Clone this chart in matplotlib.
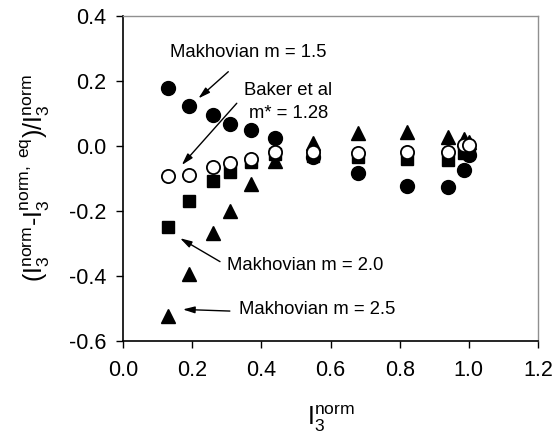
import numpy as np
import matplotlib
matplotlib.use("Agg")
import matplotlib.pyplot as plt

plt.rcParams['font.family'] = ['Liberation Sans', 'DejaVu Sans']
plt.rcParams['mathtext.fontset'] = 'custom'
plt.rcParams['mathtext.rm'] = 'Liberation Sans'
plt.rcParams['mathtext.it'] = 'Liberation Sans'

# I3 norm (x) values, shared by all series
x_vals = [0.13, 0.19, 0.26, 0.31, 0.37, 0.44, 0.55, 0.68, 0.82, 0.94, 0.985, 1.0]

# Makhovian m = 1.5 (filled circles)
m15 = [0.179, 0.124, 0.094, 0.068, 0.048, 0.024, -0.035, -0.083, -0.124, -0.128, -0.075, -0.028]
# Makhovian m = 2.0 (filled squares)
m20 = [-0.25, -0.171, -0.107, -0.080, -0.049, -0.025, -0.03, -0.035, -0.040, -0.044, -0.022, -0.015]
# Makhovian m = 2.5 (filled triangles)
m25 = [-0.523, -0.394, -0.268, -0.200, -0.117, -0.047, 0.008, 0.040, 0.043, 0.028, 0.022, 0.012]
# Baker et al m* = 1.28 (open circles)
baker = [-0.092, -0.090, -0.064, -0.054, -0.039, -0.020, -0.020, -0.021, -0.020, -0.018, 0.004, 0.002]

fig = plt.figure(figsize=(5.55, 4.38), dpi=100)
ax = fig.add_axes([0.2216, 0.2215, 0.7478, 0.7425])

ax.plot(x_vals, m15, 'o', color='black', ms=10, zorder=3)
ax.plot(x_vals, m20, 's', color='black', ms=8.5, zorder=3)
ax.plot(x_vals, m25, '^', color='black', ms=10, zorder=3)
ax.plot(x_vals, baker, 'o', mfc='white', mec='black', mew=1.3, ms=9.5, zorder=4)

ax.set_xlim(0.0, 1.2)
ax.set_ylim(-0.6, 0.4)
ax.set_xticks(np.arange(0.0, 1.21, 0.2))
ax.set_yticks(np.arange(-0.6, 0.41, 0.2))
ax.set_xticklabels(['%.1f' % v for v in np.arange(0.0, 1.21, 0.2)])
ax.set_yticklabels(['%.1f' % v for v in np.arange(-0.6, 0.41, 0.2)])
ax.tick_params(direction='out', length=5, width=1, labelsize=15.5)
ax.tick_params(axis='x', pad=9)
ax.tick_params(axis='y', pad=7)
ax.tick_params(top=False, right=False)

for s in ['left', 'bottom']:
    ax.spines[s].set_color('black')
    ax.spines[s].set_linewidth(1.2)
for s in ['top', 'right']:
    ax.spines[s].set_color('#909090')
    ax.spines[s].set_linewidth(1.0)

ax.set_xlabel(r'$\mathrm{I}_3^{\mathrm{norm}}$', fontsize=18, labelpad=16)
ax.set_ylabel(r'$(\mathrm{I}_3^{\mathrm{norm}}\text{-}\mathrm{I}_3^{\mathrm{norm,\ eq}})/\mathrm{I}_3^{\mathrm{norm}}$',
              fontsize=18, labelpad=12)

arrow = dict(arrowstyle='-|>,head_length=0.7,head_width=0.2', color='black', lw=1.0,
             shrinkA=0, shrinkB=0)

ax.text(0.361, 0.288, 'Makhovian m = 1.5', ha='center', va='center', fontsize=13.3)
ax.annotate('', xy=(0.218, 0.146), xytext=(0.3045, 0.228), arrowprops=arrow)

ax.text(0.478, 0.136, 'Baker et al\nm* = 1.28', ha='center', va='center', fontsize=13.3,
        linespacing=1.45)
ax.annotate('', xy=(0.170, -0.059), xytext=(0.329, 0.131), arrowprops=arrow)

ax.text(0.528, -0.369, 'Makhovian m = 2.0', ha='center', va='center', fontsize=13.3)
ax.annotate('', xy=(0.165, -0.284), xytext=(0.2805, -0.356), arrowprops=arrow)

ax.text(0.5625, -0.502, 'Makhovian m = 2.5', ha='center', va='center', fontsize=13.3)
ax.annotate('', xy=(0.173, -0.503), xytext=(0.309, -0.508), arrowprops=arrow)

fig.savefig('out.png', dpi=100)
